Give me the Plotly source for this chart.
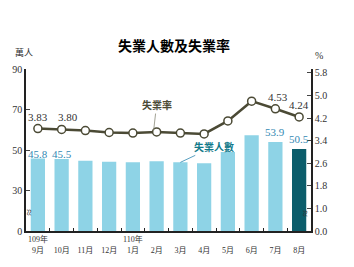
import plotly.graph_objects as go

months = ["109年<br>9月", " <br>10月", " <br>11月", " <br>12月", "110年<br>1月", " <br>2月",
          " <br>3月", " <br>4月", " <br>5月", " <br>6月", " <br>7月", " <br>8月"]
unemployed = [45.8, 45.5, 44.7, 44.2, 44.0, 44.4, 43.9, 43.5, 49.0, 57.3, 53.9, 50.5]
rate = [3.83, 3.80, 3.76, 3.69, 3.67, 3.71, 3.67, 3.64, 4.10, 4.80, 4.53, 4.24]

left_ticks = [10, 30, 50, 70, 90]
left_text = ["0", "30", "50", "70", "90"]
right_ticks = [0.2, 1.0, 1.8, 2.6, 3.4, 4.2, 5.0, 5.8]
right_text = ["0.0", "1.0", "1.8", "2.6", "3.4", "4.2", "5.0", "5.8"]

bar_labels = {0: "45.8", 1: "45.5", 10: "53.9", 11: "50.5"}
line_labels = {0: "3.83", 1: "3.80", 10: "4.53", 11: "4.24"}

FONT = "Liberation Serif, Noto Sans CJK TC"
CJK = "Noto Sans CJK TC"

bar_colors = ["#8ed3e6"] * (len(months) - 1) + ["#0b5d6b"]

fig = go.Figure()
fig.add_trace(go.Bar(x=months, y=unemployed, marker_color=bar_colors, width=0.6,
                     marker_line_width=0, yaxis="y", showlegend=False))
fig.add_trace(go.Scatter(x=months, y=rate, yaxis="y2", mode="lines+markers",
                         line=dict(color="#4b4a35", width=2.5),
                         marker=dict(size=8, color="white", line=dict(color="#4b4a35", width=1.5)),
                         showlegend=False))

ann = []
for i, t in bar_labels.items():
    ann.append(dict(x=months[i], y=unemployed[i], yref="y", text=t, showarrow=False,
                    yshift=5 if i < 10 else 10, xshift=0 if i < 11 else 0,
                    font=dict(family=FONT, size=11, color="#3389b3")))
for i, t in line_labels.items():
    xs = {0: 0, 1: 6, 10: 3, 11: 0}[i]
    ann.append(dict(x=months[i], y=rate[i], yref="y2", text=t, showarrow=False,
                    yshift=12, xshift=xs,
                    font=dict(family=FONT, size=11, color="#333333")))

ann.append(dict(x=months[5], y=rate[5] + 0.05, yref="y2", ax=3, ay=-26,
                text="<b>失業率</b>", showarrow=True, arrowhead=0, arrowwidth=0.8,
                arrowcolor="#8a8a7a", xshift=-3,
                font=dict(family=CJK, size=10, color="#4b4a35")))
ann.append(dict(x=months[6], y=unemployed[6], yref="y", ax=34, ay=-16,
                text="<b>失業人數</b>", showarrow=True, arrowhead=0, arrowwidth=0.8,
                arrowcolor="#2e86b0", xshift=0,
                font=dict(family=CJK, size=10, color="#127a8a")))

ann.append(dict(xref="paper", yref="paper", x=0.52, y=1.0, yshift=24, yanchor="middle",
                text="<b>失業人數及失業率</b>", showarrow=False,
                font=dict(family=CJK, size=14, color="black")))
ann.append(dict(xref="paper", yref="paper", x=-0.045, y=1.0, yshift=17, yanchor="middle",
                text="萬人", showarrow=False, font=dict(family=CJK, size=9, color="#333")))
ann.append(dict(xref="paper", yref="paper", x=1.05, y=1.0, yshift=14, yanchor="middle",
                text="%", showarrow=False, font=dict(family=FONT, size=10, color="#333")))
ann.append(dict(xref="paper", yref="paper", x=-0.02, y=0.08, text="≈", textangle=90,
                showarrow=False, font=dict(family=FONT, size=12, color="#333")))
ann.append(dict(xref="paper", yref="paper", x=1.01, y=0.07, text="≈", textangle=90,
                showarrow=False, font=dict(family=FONT, size=12, color="#333")))

fig.update_layout(
    width=354, height=267,
    margin=dict(l=26, r=43, t=69, b=36),
    paper_bgcolor="white", plot_bgcolor="white",
    bargap=0.4,
    font=dict(family=FONT, size=9, color="#333"),
    annotations=ann,
    xaxis=dict(type="category", range=[-0.5, 11.5], showline=True, linecolor="#222",
               linewidth=1.5, ticks="inside", ticklen=3, tickcolor="#222",
               tickson="boundaries", tickangle=0, tickfont=dict(family=FONT, size=8),
               showgrid=False),
    yaxis=dict(range=[10, 90], tickvals=left_ticks, ticktext=left_text, showline=True,
               linecolor="#222", linewidth=1.5, ticks="inside", ticklen=4,
               tickfont=dict(family=FONT, size=10), showgrid=False, zeroline=False),
    yaxis2=dict(range=[0.2, 5.94], tickvals=right_ticks, ticktext=right_text,
                overlaying="y", side="right", showline=True, linecolor="#222",
                linewidth=1.5, ticks="inside", ticklen=4,
                tickfont=dict(family=FONT, size=10), showgrid=False, zeroline=False),
)

fig.write_html("out.html")
